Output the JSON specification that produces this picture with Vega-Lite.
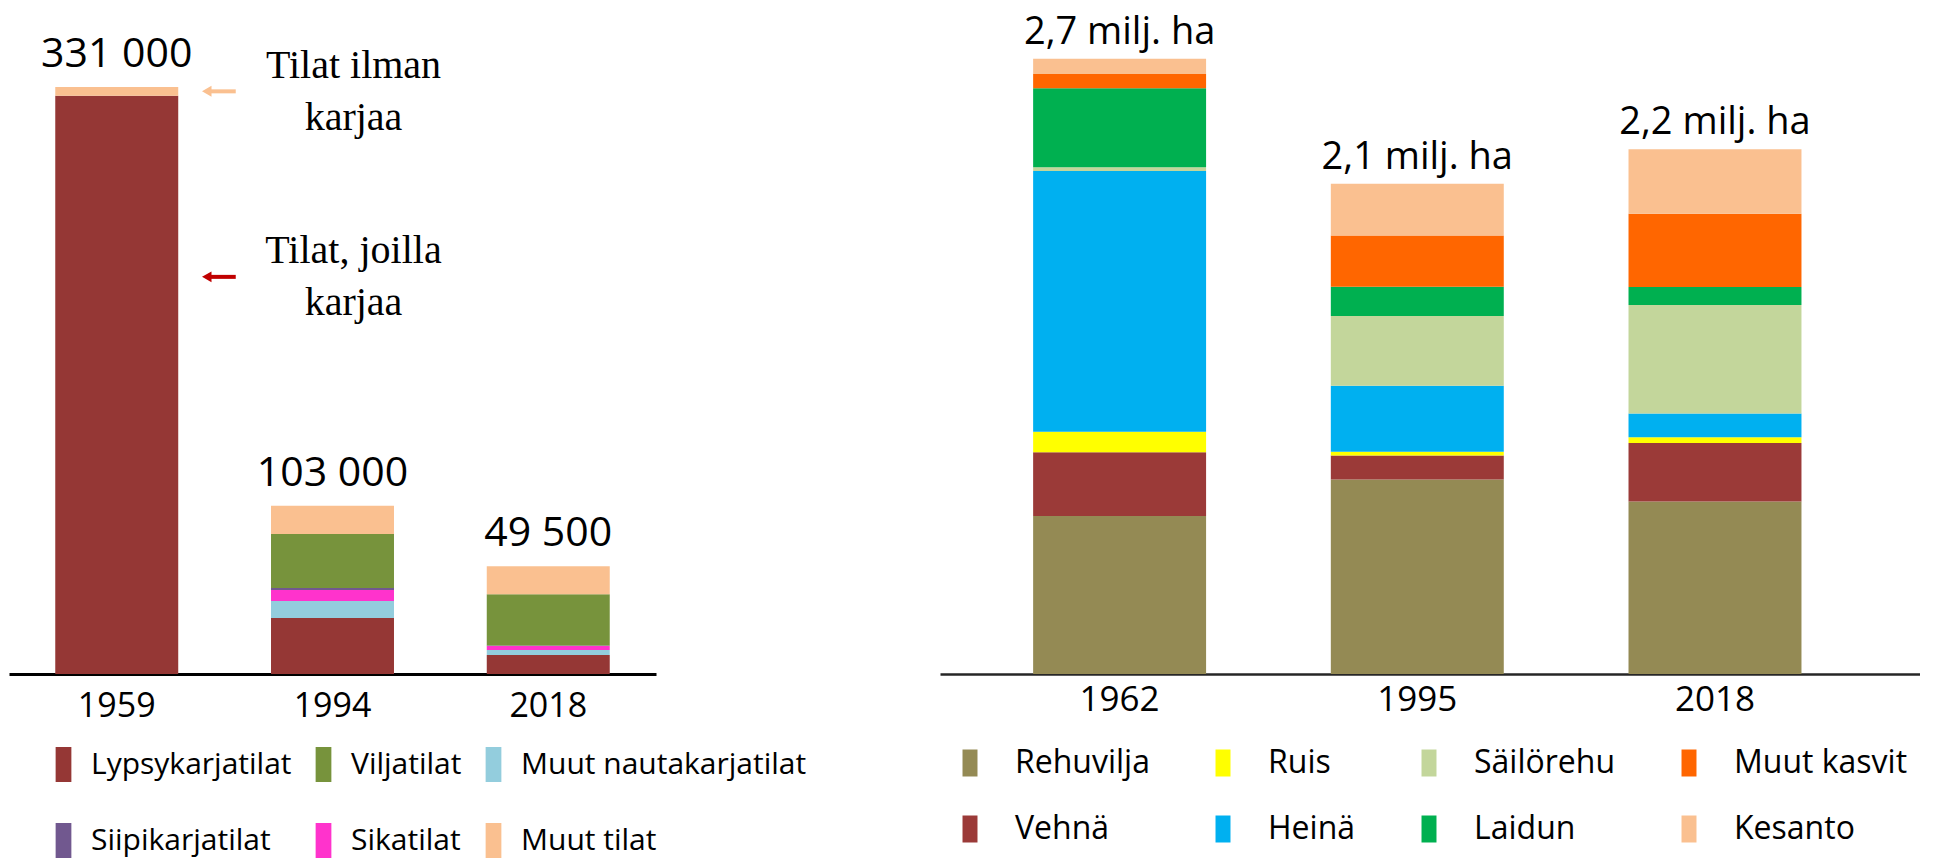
{
  "$schema": "https://vega.github.io/schema/vega-lite/v6.json",
  "padding": {"left": 9, "top": 0, "right": 0, "bottom": 0},
  "background": "white",
  "bounds": "flush",
  "config": {"view": {"stroke": null}, "font": "Open Sans"},
  "datasets": {
    "farms": [
      {"year": "1959", "group": "Lypsykarjatilat", "farms": 326000},
      {"year": "1959", "group": "Muut tilat", "farms": 5000},
      {"year": "1994", "group": "Lypsykarjatilat", "farms": 31600},
      {"year": "1994", "group": "Muut nautakarjatilat", "farms": 9600},
      {"year": "1994", "group": "Sikatilat", "farms": 6200},
      {"year": "1994", "group": "Siipikarjatilat", "farms": 1100},
      {"year": "1994", "group": "Viljatilat", "farms": 30500},
      {"year": "1994", "group": "Muut tilat", "farms": 15800},
      {"year": "2018", "group": "Lypsykarjatilat", "farms": 10700},
      {"year": "2018", "group": "Muut nautakarjatilat", "farms": 2800},
      {"year": "2018", "group": "Sikatilat", "farms": 2300},
      {"year": "2018", "group": "Siipikarjatilat", "farms": 300},
      {"year": "2018", "group": "Viljatilat", "farms": 28800},
      {"year": "2018", "group": "Muut tilat", "farms": 15800}
    ],
    "farmTotals": [
      {"year": "1959", "label": "331 000"},
      {"year": "1994", "label": "103 000"},
      {"year": "2018", "label": "49 500"}
    ],
    "farmNotes": [
      {"kind": "ilman", "year": "1994", "farms": 336000, "note": "Tilat ilman|karjaa", "arrowYear": "1959", "arrowAt": 328500},
      {"kind": "joilla", "year": "1994", "farms": 231800, "note": "Tilat, joilla|karjaa", "arrowYear": "1959", "arrowAt": 223900}
    ],
    "crops": [
      {"year": "1962", "crop": "Rehuvilja", "area": 694},
      {"year": "1962", "crop": "Vehnä", "area": 280},
      {"year": "1962", "crop": "Ruis", "area": 90},
      {"year": "1962", "crop": "Heinä", "area": 1145},
      {"year": "1962", "crop": "Säilörehu", "area": 16},
      {"year": "1962", "crop": "Laidun", "area": 347},
      {"year": "1962", "crop": "Muut kasvit", "area": 63},
      {"year": "1962", "crop": "Kesanto", "area": 67},
      {"year": "1995", "crop": "Rehuvilja", "area": 854},
      {"year": "1995", "crop": "Vehnä", "area": 106},
      {"year": "1995", "crop": "Ruis", "area": 16},
      {"year": "1995", "crop": "Heinä", "area": 290},
      {"year": "1995", "crop": "Säilörehu", "area": 306},
      {"year": "1995", "crop": "Laidun", "area": 129},
      {"year": "1995", "crop": "Muut kasvit", "area": 225},
      {"year": "1995", "crop": "Kesanto", "area": 227},
      {"year": "2018", "crop": "Rehuvilja", "area": 758},
      {"year": "2018", "crop": "Vehnä", "area": 256},
      {"year": "2018", "crop": "Ruis", "area": 26},
      {"year": "2018", "crop": "Heinä", "area": 104},
      {"year": "2018", "crop": "Säilörehu", "area": 476},
      {"year": "2018", "crop": "Laidun", "area": 80},
      {"year": "2018", "crop": "Muut kasvit", "area": 321},
      {"year": "2018", "crop": "Kesanto", "area": 284}
    ],
    "cropTotals": [
      {"year": "1962", "label": "2,7 milj. ha"},
      {"year": "1995", "label": "2,1 milj. ha"},
      {"year": "2018", "label": "2,2 milj. ha"}
    ]
  },
  "spacing": 284,
  "resolve": {"scale": {"color": "independent", "x": "independent", "y": "independent"}},
  "hconcat": [
    {
      "width": 647,
      "height": 674,
      "layer": [
        {
          "data": {"name": "farms"},
          "transform": [
            {"calculate": "indexof(['Lypsykarjatilat','Muut nautakarjatilat','Sikatilat','Siipikarjatilat','Viljatilat','Muut tilat'], datum.group)", "as": "stackOrder"}
          ],
          "mark": {"type": "bar"},
          "encoding": {
            "x": {
              "field": "year", "type": "nominal",
              "scale": {"domain": ["1959", "1994", "2018"], "paddingInner": 0.43, "paddingOuter": 0.2144},
              "axis": {"title": null, "labelAngle": 0, "ticks": false, "grid": false, "domainColor": "#000000", "domainWidth": 3, "labelFont": "Open Sans", "labelFontSize": 34, "labelColor": "#000000", "labelPadding": 15}
            },
            "y": {
              "field": "farms", "type": "quantitative", "stack": "zero",
              "scale": {"domain": [0, 380000], "nice": false}, "axis": null
            },
            "color": {
              "field": "group", "type": "nominal",
              "scale": {
                "domain": ["Lypsykarjatilat", "Viljatilat", "Muut nautakarjatilat", "Siipikarjatilat", "Sikatilat", "Muut tilat"],
                "range": ["#953735", "#77933C", "#93CDDD", "#71588F", "#FF33CC", "#FAC090"]
              },
              "legend": {
                "title": null, "orient": "none", "direction": "horizontal", "legendX": 37, "legendY": 747, "columns": 3,
                "symbolType": "M-0.45,-1H0.45V1H-0.45Z", "symbolSize": 1225, "symbolStrokeWidth": 0, "symbolOpacity": 1,
                "labelFont": "Open Sans", "labelFontSize": 30, "labelColor": "#000000", "labelOffset": 10, "labelLimit": 500,
                "columnPadding": 14, "rowPadding": 41, "padding": 0
              }
            },
            "order": {"field": "stackOrder", "type": "quantitative"}
          }
        },
        {
          "data": {"name": "farms"},
          "transform": [
            {"aggregate": [{"op": "sum", "field": "farms", "as": "total"}], "groupby": ["year"]},
            {"lookup": "year", "from": {"data": {"name": "farmTotals"}, "key": "year", "fields": ["label"]}}
          ],
          "mark": {"type": "text", "baseline": "alphabetic", "dy": -20, "fontSize": 41, "font": "Open Sans", "color": "#000000"},
          "encoding": {
            "x": {"field": "year", "type": "nominal"},
            "y": {"field": "total", "type": "quantitative"},
            "text": {"field": "label"}
          }
        },
        {
          "data": {"name": "farmNotes"},
          "mark": {"type": "text", "font": "Liberation Serif", "fontSize": 40, "lineBreak": "|", "lineHeight": 52, "baseline": "alphabetic", "dx": 21, "color": "#000000"},
          "encoding": {
            "x": {"field": "year", "type": "nominal"},
            "y": {"field": "farms", "type": "quantitative"},
            "text": {"field": "note"}
          }
        },
        {
          "data": {"name": "farmNotes"},
          "transform": [{"filter": "datum.kind === 'ilman'"}],
          "mark": {"type": "rule", "strokeWidth": 4, "color": "#FAC090", "xOffset": 93, "x2Offset": 119},
          "encoding": {
            "x": {"field": "arrowYear", "type": "nominal"},
            "x2": {"field": "arrowYear"},
            "y": {"field": "arrowAt", "type": "quantitative"}
          }
        },
        {
          "data": {"name": "farmNotes"},
          "transform": [{"filter": "datum.kind === 'ilman'"}],
          "mark": {"type": "point", "shape": "triangle-left", "filled": true, "size": 120, "opacity": 1, "color": "#FAC090", "xOffset": 90},
          "encoding": {
            "x": {"field": "arrowYear", "type": "nominal"},
            "y": {"field": "arrowAt", "type": "quantitative"}
          }
        },
        {
          "data": {"name": "farmNotes"},
          "transform": [{"filter": "datum.kind === 'joilla'"}],
          "mark": {"type": "rule", "strokeWidth": 4, "color": "#C00000", "xOffset": 93, "x2Offset": 119},
          "encoding": {
            "x": {"field": "arrowYear", "type": "nominal"},
            "x2": {"field": "arrowYear"},
            "y": {"field": "arrowAt", "type": "quantitative"}
          }
        },
        {
          "data": {"name": "farmNotes"},
          "transform": [{"filter": "datum.kind === 'joilla'"}],
          "mark": {"type": "point", "shape": "triangle-left", "filled": true, "size": 120, "opacity": 1, "color": "#C00000", "xOffset": 90},
          "encoding": {
            "x": {"field": "arrowYear", "type": "nominal"},
            "y": {"field": "arrowAt", "type": "quantitative"}
          }
        }
      ]
    },
    {
      "width": 980,
      "height": 674,
      "layer": [
        {
          "data": {"name": "crops"},
          "transform": [
            {"calculate": "indexof(['Rehuvilja','Vehnä','Ruis','Heinä','Säilörehu','Laidun','Muut kasvit','Kesanto'], datum.crop)", "as": "stackOrder"}
          ],
          "mark": {"type": "bar"},
          "encoding": {
            "x": {
              "field": "year", "type": "nominal",
              "scale": {"domain": ["1962", "1995", "2018"], "paddingInner": 0.419, "paddingOuter": 0.3555, "align": 0.44},
              "axis": {"title": null, "labelAngle": 0, "ticks": false, "grid": false, "domainColor": "#262626", "domainWidth": 2.5, "labelFont": "Open Sans", "labelFontSize": 35, "labelColor": "#000000", "labelPadding": 8}
            },
            "y": {
              "field": "area", "type": "quantitative", "stack": "zero",
              "scale": {"domain": [0, 2960], "nice": false}, "axis": null
            },
            "color": {
              "field": "crop", "type": "nominal",
              "scale": {
                "domain": ["Rehuvilja", "Ruis", "Säilörehu", "Muut kasvit", "Vehnä", "Heinä", "Laidun", "Kesanto"],
                "range": ["#948A54", "#FFFF00", "#C3D69B", "#FF6600", "#9B3A38", "#00B0F0", "#00B050", "#FAC090"]
              },
              "legend": {
                "title": null, "orient": "none", "direction": "horizontal", "legendX": 14, "legendY": 747, "columns": 4,
                "symbolType": "M-0.555,-1H0.555V1H-0.555Z", "symbolSize": 729, "symbolStrokeWidth": 0, "symbolOpacity": 1,
                "labelFont": "Open Sans", "labelFontSize": 32, "labelColor": "#000000", "labelOffset": 29, "labelLimit": 500,
                "columnPadding": 57, "rowPadding": 34, "padding": 0
              }
            },
            "order": {"field": "stackOrder", "type": "quantitative"}
          }
        },
        {
          "data": {"name": "crops"},
          "transform": [
            {"aggregate": [{"op": "sum", "field": "area", "as": "total"}], "groupby": ["year"]},
            {"lookup": "year", "from": {"data": {"name": "cropTotals"}, "key": "year", "fields": ["label"]}}
          ],
          "mark": {"type": "text", "baseline": "alphabetic", "dy": -15, "fontSize": 38, "font": "Open Sans", "color": "#000000"},
          "encoding": {
            "x": {"field": "year", "type": "nominal"},
            "y": {"field": "total", "type": "quantitative"},
            "text": {"field": "label"}
          }
        }
      ]
    }
  ]
}
